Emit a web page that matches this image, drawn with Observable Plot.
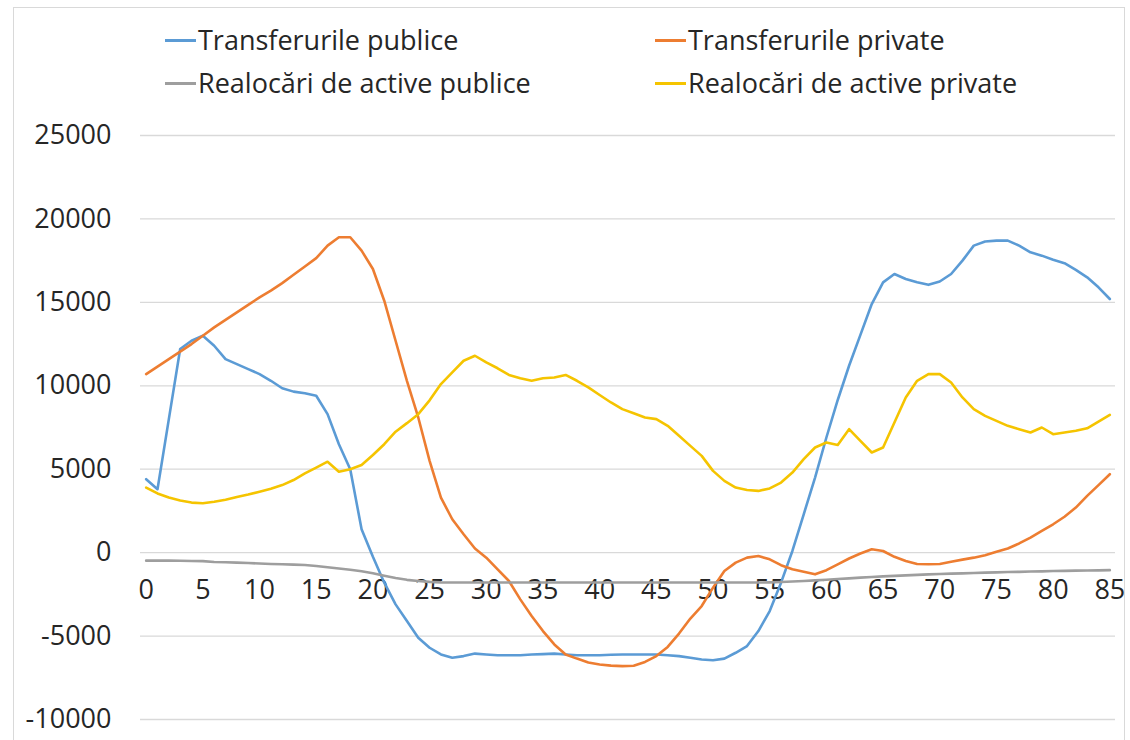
<!DOCTYPE html>
<html><head><meta charset="utf-8">
<script src="https://cdn.jsdelivr.net/npm/d3@7"></script>
<script src="https://cdn.jsdelivr.net/npm/@observablehq/plot@0.6"></script>
<style>
body{margin:0;background:#fff;font-family:"Open Sans",sans-serif;}
#frame{position:absolute;left:13px;top:7px;width:1112px;height:760px;border:1px solid #d9d9d9;box-sizing:border-box;}
#wrap{position:absolute;left:0;top:0;width:1130px;}
#legend{position:relative;height:110px;}
.item{position:absolute;font-size:27px;line-height:34px;color:#262626;display:flex;align-items:center;white-space:nowrap}
.sw{display:inline-block;width:31px;height:3px;margin-right:2px}
</style></head>
<body>
<div id="frame"></div>
<div id="wrap"><div id="legend"></div><div id="chart"></div></div>
<script>
const ages = [0,1,2,3,4,5,6,7,8,9,10,11,12,13,14,15,16,17,18,19,20,21,22,23,24,25,26,27,28,29,30,31,32,33,34,35,36,37,38,39,40,41,42,43,44,45,46,47,48,49,50,51,52,53,54,55,56,57,58,59,60,61,62,63,64,65,66,67,68,69,70,71,72,73,74,75,76,77,78,79,80,81,82,83,84,85];

const seriesNames = ["Transferurile publice","Transferurile private","Realocări de active publice","Realocări de active private"];
const seriesColors = ["#5B9BD5","#ED7D31","#9E9E9E","#F5C400"];

const publicTransfers = [4400,3800,8000,12200,12700,13000,12400,11600,11300,11000,10700,10300,9850,9650,9550,9400,8300,6500,5000,1400,-250,-1800,-3100,-4100,-5100,-5700,-6100,-6300,-6200,-6050,-6100,-6150,-6150,-6150,-6100,-6080,-6050,-6100,-6150,-6150,-6150,-6120,-6100,-6100,-6100,-6100,-6150,-6200,-6300,-6400,-6450,-6350,-6000,-5600,-4700,-3500,-1800,100,2300,4500,6900,9150,11200,13050,14900,16200,16700,16400,16200,16050,16250,16700,17500,18400,18650,18700,18700,18400,18000,17800,17550,17350,16950,16500,15900,15200];

const privateTransfers = [10700,11150,11600,12050,12500,13000,13500,13950,14400,14850,15300,15700,16150,16650,17150,17650,18400,18900,18900,18100,17000,15100,12700,10300,8100,5500,3300,2000,1100,250,-300,-1000,-1700,-2800,-3800,-4700,-5500,-6100,-6350,-6580,-6700,-6770,-6800,-6780,-6550,-6200,-5650,-4850,-3950,-3200,-2100,-1100,-600,-300,-200,-400,-750,-1000,-1150,-1300,-1050,-700,-350,-50,200,100,-250,-500,-680,-700,-680,-550,-420,-300,-150,50,250,550,900,1300,1700,2150,2700,3400,4050,4700];

const publicAssets = [-480,-480,-480,-490,-500,-510,-560,-580,-600,-620,-650,-680,-700,-720,-740,-800,-880,-950,-1030,-1120,-1230,-1380,-1520,-1630,-1700,-1750,-1780,-1790,-1790,-1790,-1790,-1790,-1790,-1790,-1790,-1790,-1790,-1790,-1790,-1790,-1790,-1790,-1790,-1790,-1790,-1790,-1790,-1790,-1790,-1790,-1790,-1790,-1790,-1790,-1790,-1780,-1760,-1730,-1700,-1660,-1620,-1580,-1540,-1500,-1460,-1420,-1390,-1360,-1330,-1300,-1280,-1260,-1240,-1220,-1200,-1180,-1160,-1150,-1130,-1120,-1100,-1090,-1080,-1070,-1060,-1050];

const privateAssets = [3900,3550,3300,3120,3000,2960,3050,3170,3330,3480,3650,3830,4050,4350,4750,5100,5450,4850,5000,5250,5850,6500,7250,7760,8300,9130,10100,10800,11500,11800,11400,11050,10650,10450,10300,10450,10500,10650,10300,9900,9450,9000,8600,8350,8100,8000,7600,7000,6400,5800,4900,4300,3900,3750,3700,3850,4200,4800,5600,6300,6600,6450,7400,6700,6000,6300,7800,9300,10300,10700,10700,10200,9300,8600,8200,7900,7600,7400,7200,7500,7100,7200,7300,7450,7850,8250];

const yTicks = [-10000,-5000,0,5000,10000,15000,20000,25000];
const xTicks = [0,5,10,15,20,25,30,35,40,45,50,55,60,65,70,75,80,85];

const allSeries = [publicTransfers, privateTransfers, publicAssets, privateAssets];
const rows = allSeries.flatMap((vals, i) => vals.map((v, j) => ({age: ages[j], value: v, series: seriesNames[i]})));

// legend
const legend = document.getElementById("legend");
const pos = [[165,23],[655,23],[165,66],[655,66]];
seriesNames.forEach((name, i) => {
  const it = document.createElement("div");
  it.className = "item";
  it.style.left = pos[i][0] + "px";
  it.style.top = pos[i][1] + "px";
  it.innerHTML = `<span class="sw" style="background:${seriesColors[i]}"></span><span>${name}</span>`;
  legend.appendChild(it);
});

const chart = Plot.plot({
  width: 1130, height: 625,
  marginLeft: 140, marginRight: 15, marginTop: 25, marginBottom: 16,
  x: {domain: [-0.5, 85.5], axis: null},
  y: {domain: [-10000, 25000]},
  color: {domain: seriesNames, range: seriesColors},
  style: {fontFamily: '"Open Sans", sans-serif', background: "transparent", color: "#262626"},
  marks: [
    Plot.ruleY(yTicks, {stroke: "#d9d9d9", strokeWidth: 1.3}),
    Plot.axisY(yTicks, {tickSize: 0, tickPadding: 29, fontSize: 27, fill: "#262626", label: null, tickFormat: d => String(d)}),
    Plot.text(xTicks, {x: d => d, y: 0, dy: 38, text: d => String(d), fontSize: 27, fill: "#262626"}),
    Plot.line(rows, {x: "age", y: "value", z: "series", stroke: "series", strokeWidth: 2.6, strokeLinejoin: "round"})
  ]
});
document.getElementById("chart").appendChild(chart);
</script>
</body></html>
